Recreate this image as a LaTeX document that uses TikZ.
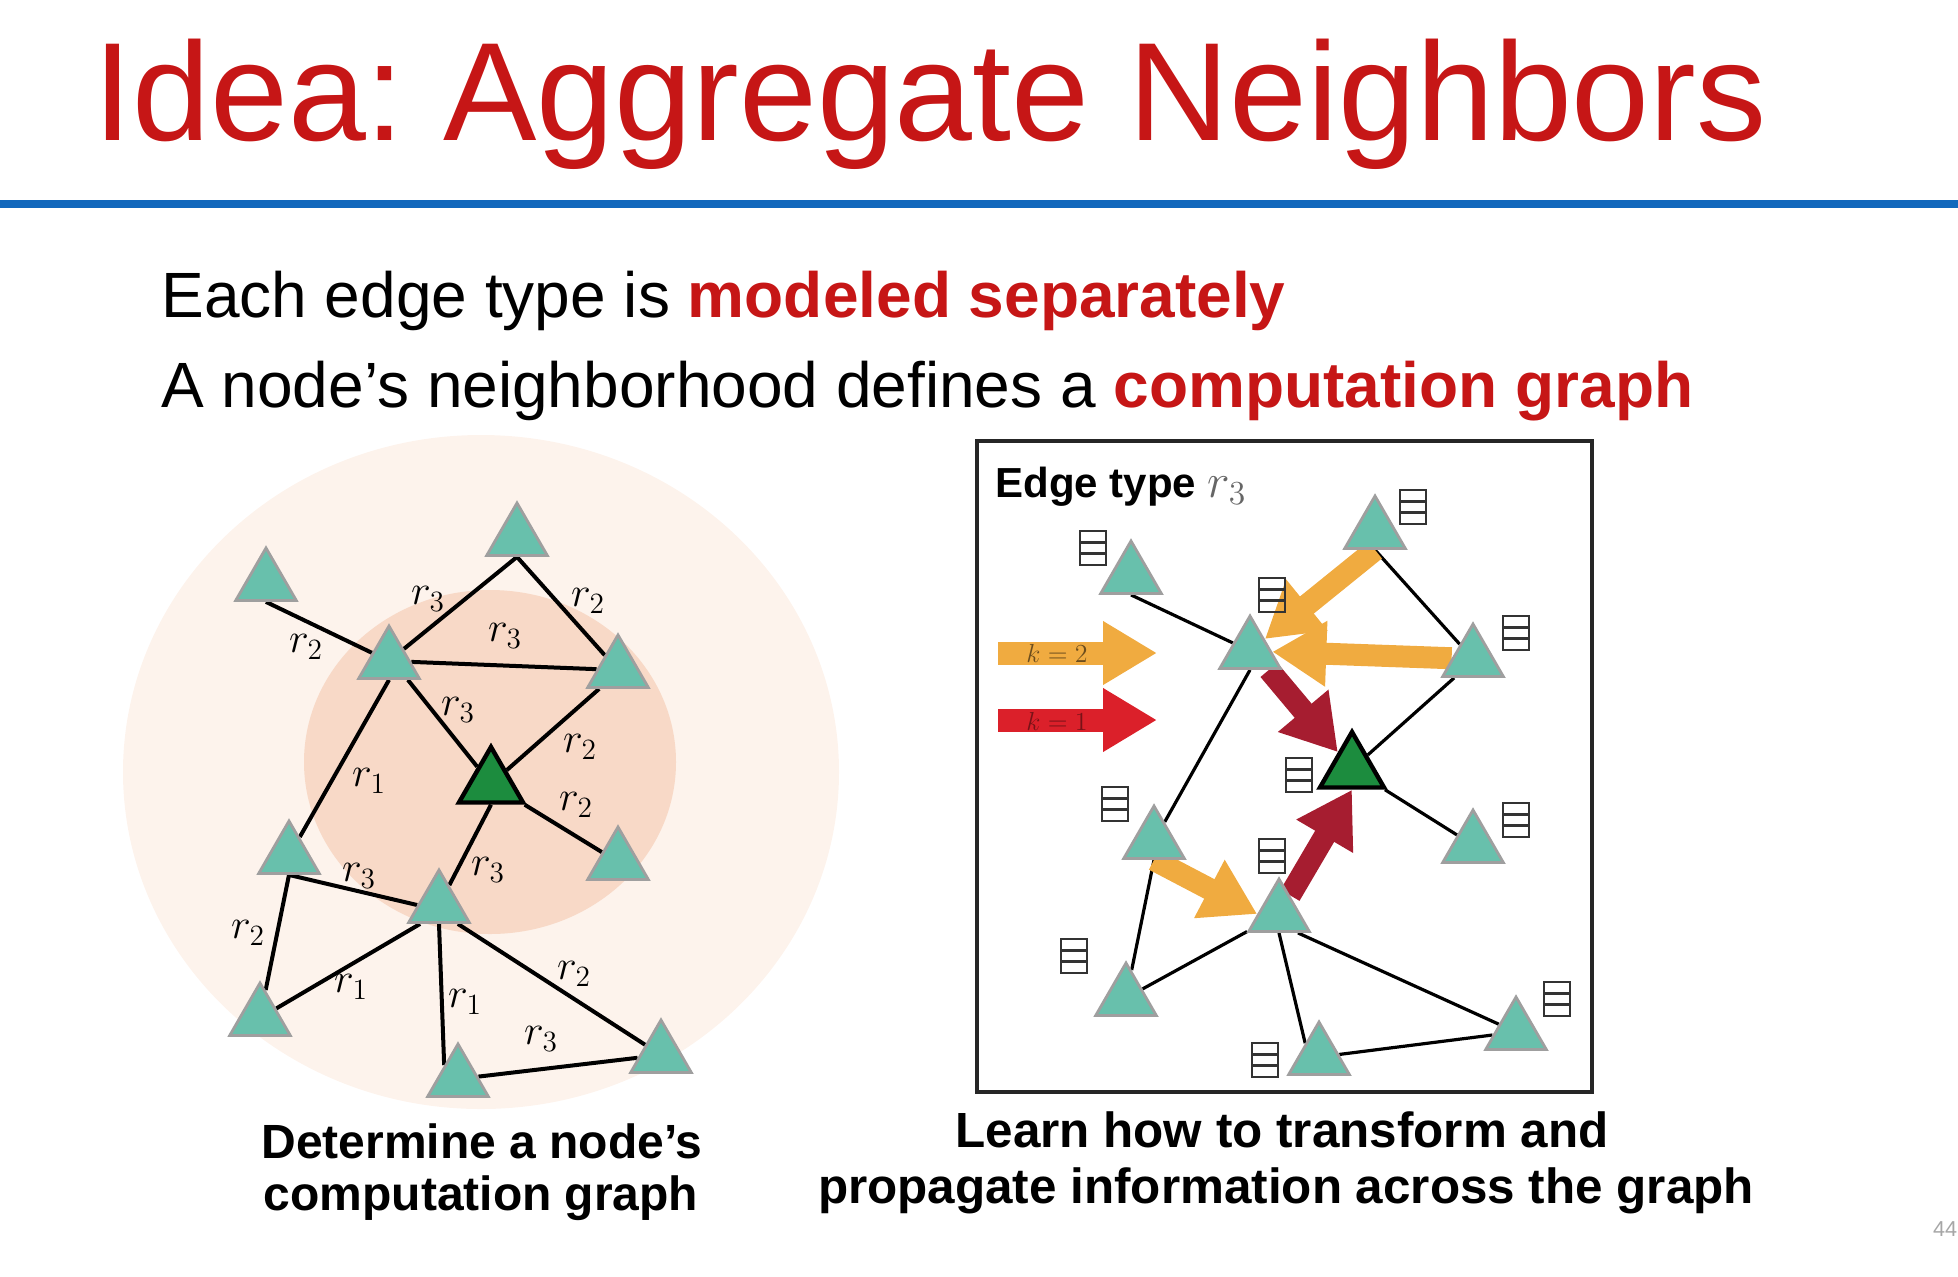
\documentclass[tikz,border=0pt]{standalone}
\usepackage{fix-cm}
\usepackage{fontspec}
\usetikzlibrary{shapes.geometric,arrows.meta,backgrounds}

\newfontfamily\slidefont{Liberation Sans}
\frenchspacing

\definecolor{titlered}{RGB}{198,22,22}
\definecolor{ruleblue}{RGB}{18,104,188}
\definecolor{outerpeach}{RGB}{253,243,236}
\definecolor{innerpeach}{RGB}{248,217,199}
\definecolor{nodeteal}{RGB}{104,192,172}
\definecolor{nodegreen}{RGB}{28,140,62}
\definecolor{msgorange}{RGB}{240,171,64}
\definecolor{msgred}{RGB}{166,29,48}
\definecolor{keyred}{RGB}{219,32,42}

\begin{document}
\begin{tikzpicture}[x=0.5pt, y=-0.5pt,
	tri/.style = {regular polygon, regular polygon sides=3, minimum size=35pt, inner sep=0pt, fill=nodeteal, draw=gray!75, line width=1.4pt},
	hub/.style = {tri, fill=nodegreen, draw=black, line width=2.2pt, minimum size=37pt},
	lbl/.style = {inner sep=0pt, font=\fontsize{21}{24}\selectfont},
	edge/.style = {line width=2pt},
	thinedge/.style = {line width=1.6pt},
	msg/.style = {line width=11pt, -{Triangle[length=27pt, width=31pt]}},
	key/.style = {line width=11.5pt, -{Triangle[length=27pt, width=30pt]}},
	keytxt/.style = {inner sep=0pt, font=\fontsize{13}{15}\selectfont},
	feat/.style = {draw=black!80, line width=1.2pt, minimum width=13pt, minimum height=17pt, inner sep=0pt,
		path picture={\foreach \q in {1,2}
			\draw[black!80, line width=1.2pt] ([yshift=-\q*17pt/3]path picture bounding box.north west) -- ([yshift=-\q*17pt/3]path picture bounding box.north east);}},
	plain/.style = {inner sep=0pt, anchor=base west},
	caption/.style = {inner sep=0pt, anchor=base, font=\slidefont\bfseries\fontsize{24}{28}\selectfont}]

	\useasboundingbox (0,0) rectangle (1958,1276);

	% title and rule
	\node[plain, text=titlered, font=\slidefont\fontsize{70}{80}\selectfont] (title) at (93,140) {Idea: Aggregate Neighbors};
	\draw[ruleblue, line width=4pt] (0,204) -- (1958,204);

	\node[plain, font=\slidefont\fontsize{32}{38}\selectfont] (bul1) at (161,317) {Each edge type is \textcolor{titlered}{\bfseries modeled separately}};
	\node[plain, font=\slidefont\fontsize{32}{38}\selectfont] (bul2) at (161,407) {A node’s neighborhood defines a \textcolor{titlered}{\bfseries computation graph}};

	% left: computation graph of the green node
	\node[tri] (la) at (266,583) {};
	\node[tri] (lb) at (517,538) {};
	\node[tri] (lc) at (389,661) {};
	\node[tri] (ld) at (618,670) {};
	\node[tri] (le) at (289,856) {};
	\node[tri] (lf) at (618,862) {};
	\node[tri] (lh) at (439,905) {};
	\node[tri] (li) at (260,1018) {};
	\node[tri] (lj) at (458,1079) {};
	\node[tri] (lk) at (661,1055) {};
	\node[hub] (lg) at (491,784) {};

	\begin{scope}[on background layer]
		\fill[outerpeach] (481,772) ellipse [x radius=358, y radius=337];
		\fill[innerpeach] (490,762) ellipse [x radius=186, y radius=172];
		\draw[edge] (la.south) -- (lc);
		\draw[edge] (lb.south) -- (lc);
		\draw[edge] (lb.south) -- (ld);
		\draw[edge] (lc) -- (ld);
		\draw[edge] (lc.south east) -- (lg);
		\draw[edge] (ld.south west) -- (lg);
		\draw[edge] (lg) -- (lf);
		\draw[edge] (lc.south) -- (le);
		\draw[edge] (lg.south) -- (lh);
		\draw[edge] (le.south) -- (lh.west);
		\draw[edge] (le.south) -- (li);
		\draw[edge] (lh.south west) -- (li);
		\draw[edge] (lh.south) -- (lj.north west);
		\draw[edge] (lh.south east) -- (lk);
		\draw[edge] (lj) -- (lk);
	\end{scope}

	\node[lbl] (t1) at (306,647) {$r_2$};
	\node[lbl] (t2) at (428,599) {$r_3$};
	\node[lbl] (t3) at (588,601) {$r_2$};
	\node[lbl] (t4) at (505,636) {$r_3$};
	\node[lbl] (t5) at (458,710) {$r_3$};
	\node[lbl] (t6) at (580,747) {$r_2$};
	\node[lbl] (t7) at (576,805) {$r_2$};
	\node[lbl] (t8) at (369,781) {$r_1$};
	\node[lbl] (t9) at (488,870) {$r_3$};
	\node[lbl] (t10) at (359,876) {$r_3$};
	\node[lbl] (t11) at (248,933) {$r_2$};
	\node[lbl] (t12) at (351,987) {$r_1$};
	\node[lbl] (t13) at (465,1002) {$r_1$};
	\node[lbl] (t14) at (574,974) {$r_2$};
	\node[lbl] (t15) at (541,1039) {$r_3$};

	% right: messages along edge type r3
	\draw[black!85, line width=1.8pt] (977,441) rectangle (1592,1092);
	\node[plain, font=\slidefont\bfseries\fontsize{21}{24}\selectfont] (etype) at (995,497) {Edge type \textcolor{black!60}{\fontsize{24}{26}\selectfont$r_3$}};

	\coordinate (k2s) at (998,653);
	\coordinate (k2e) at (1157,653);
	\coordinate (k1s) at (998,720);
	\coordinate (k1e) at (1157,720);
	\draw[key, msgorange] (k2s) -- (k2e);
	\draw[key, keyred] (k1s) -- (k1e);
	\node[keytxt, text=black!55!msgorange] (k2) at (1057,653) {$k=2$};
	\node[keytxt, text=black!45!keyred] (k1) at (1057,721) {$k=1$};

	\node[tri] (ra) at (1131,576) {};
	\node[tri] (rb) at (1375,531) {};
	\node[tri] (rc) at (1250,651) {};
	\node[tri] (rd) at (1473,659) {};
	\node[tri] (re) at (1154,841) {};
	\node[tri] (rf) at (1473,845) {};
	\node[tri] (rh) at (1279,914) {};
	\node[tri] (ri) at (1126,998) {};
	\node[tri] (rj) at (1319,1057) {};
	\node[tri] (rk) at (1516,1032) {};
	\node[hub] (rg) at (1352,769) {};

	\begin{scope}[on background layer]
		\draw[thinedge] (ra.south) -- (rc);
		\draw[thinedge] (rb.south) -- (rd);
		\draw[thinedge] (rc.south) -- (re);
		\draw[thinedge] (rd.south west) -- (rg);
		\draw[thinedge] (rg) -- (rf);
		\draw[thinedge] (re.south) -- (ri);
		\draw[thinedge] (ri) -- (rh);
		\draw[thinedge] (rh.south) -- (rj.north west);
		\draw[thinedge] (rh.south east) -- (rk);
		\draw[thinedge] (rj) -- (rk);
		\draw[msg, msgorange] (rb.south) -- (rc);
		\draw[msg, msgorange] (rd) -- (rc);
		\draw[msg, msgorange] (re.south) -- (rh.west);
		\draw[msg, msgred] (rc.south east) -- (rg);
		\draw[msg, msgred] (rh) -- (rg.south);
	\end{scope}

	\node[feat] (fa) at (1093,548) {};
	\node[feat] (fb) at (1413,507) {};
	\node[feat] (fc) at (1272,595) {};
	\node[feat] (fd) at (1516,633) {};
	\node[feat] (fg) at (1299,775) {};
	\node[feat] (fe) at (1115,804) {};
	\node[feat] (fh) at (1272,856) {};
	\node[feat] (ff) at (1516,820) {};
	\node[feat] (fi) at (1074,956) {};
	\node[feat] (fj) at (1265,1060) {};
	\node[feat] (fk) at (1557,999) {};

	% captions
	\node[caption] (capl1) at (482,1158) {Determine a node’s};
	\node[caption] (capl2) at (481,1210) {computation graph};
	\node[caption, font=\slidefont\bfseries\fontsize{24.7}{28}\selectfont] (capr1) at (1282,1147) {Learn how to transform and};
	\node[caption, font=\slidefont\bfseries\fontsize{24.7}{28}\selectfont] (capr2) at (1286,1203) {propagate information across the graph};

	\node[font=\slidefont\fontsize{10.8}{12}\selectfont, text=gray!70, inner sep=0pt] (pagenum) at (1945,1229) {44};
\end{tikzpicture}
\end{document}
